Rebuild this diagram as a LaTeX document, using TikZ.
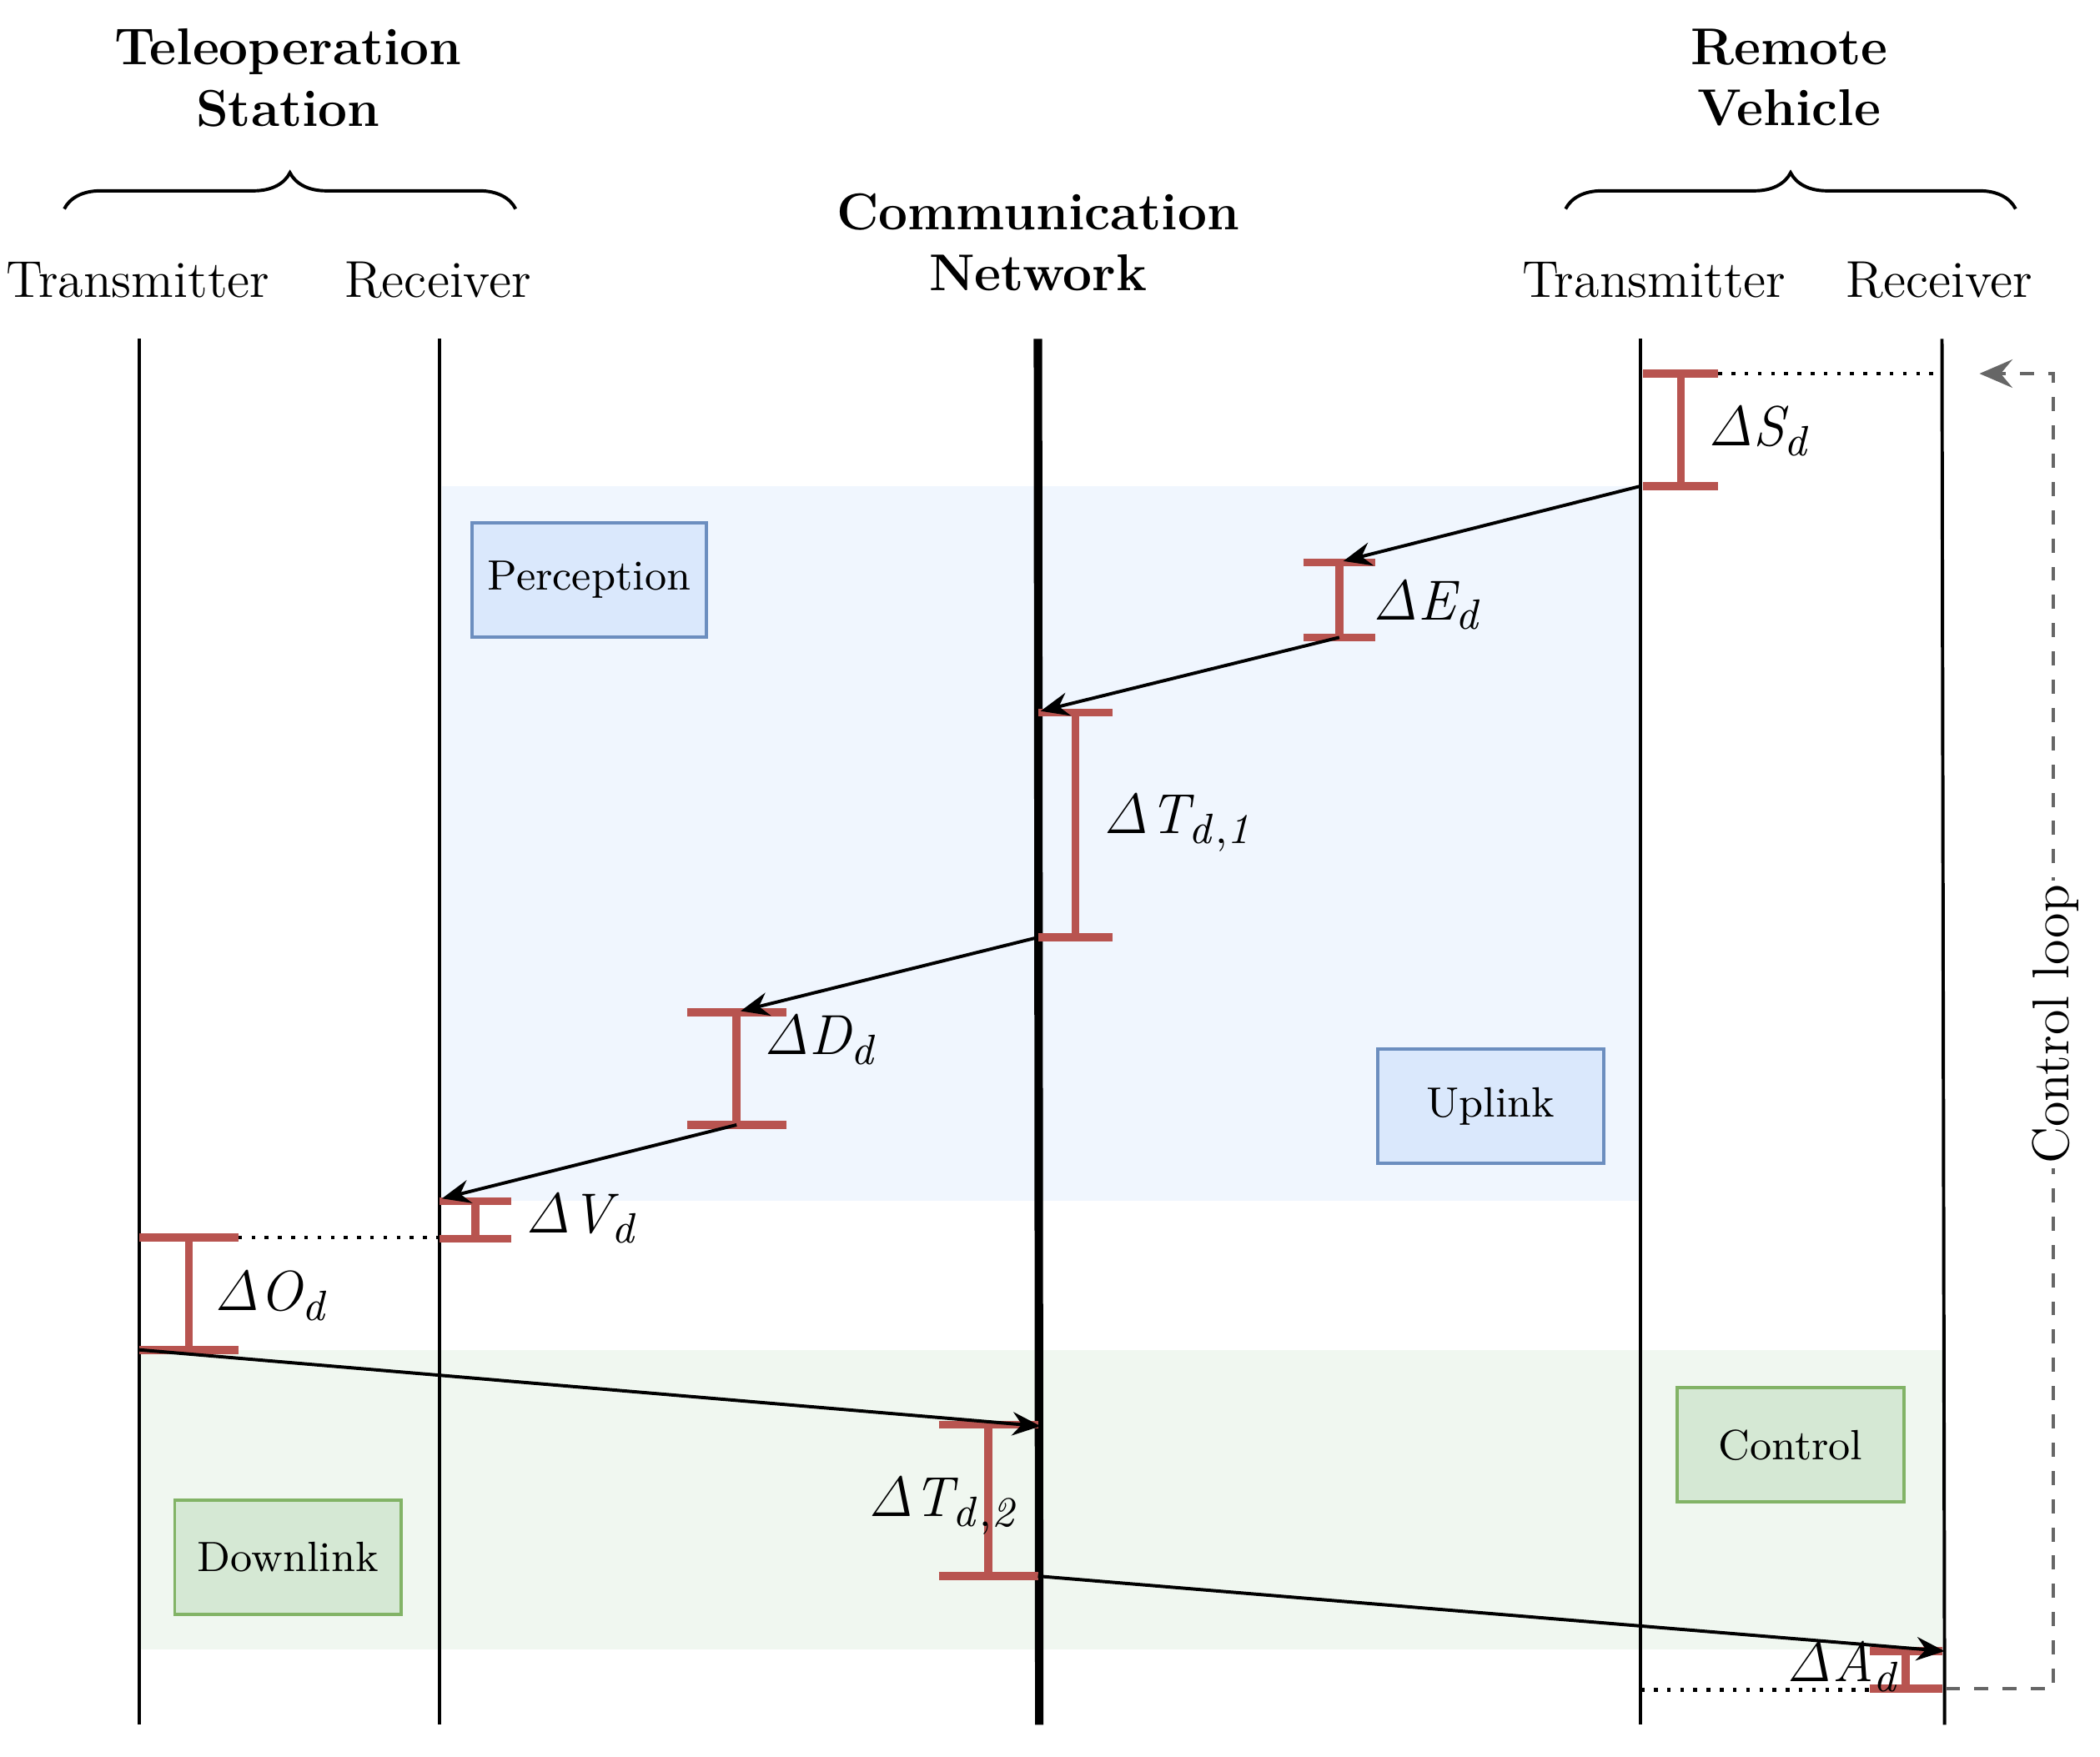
\documentclass[tikz,border=0pt]{standalone}
\usetikzlibrary{arrows.meta,decorations.pathreplacing}
\definecolor{bbg}{HTML}{F0F6FE}
\definecolor{gbg}{HTML}{F0F7F0}
\definecolor{bfill}{HTML}{DAE8FC}
\definecolor{bdraw}{HTML}{6C8EBF}
\definecolor{gfill}{HTML}{D5E8D4}
\definecolor{gdraw}{HTML}{82B366}
\definecolor{ired}{HTML}{B85450}
\begin{document}
\begin{tikzpicture}[x=0.01cm,y=-0.01cm,
  lane/.style={line width=0.7pt},
  hdr/.style={font=\fontsize{11}{13}\selectfont\bfseries,align=center},
  sub/.style={font=\fontsize{11}{13}\selectfont},
  bbox/.style={draw=bdraw,fill=bfill,line width=0.7pt,minimum width=1.69cm,minimum height=0.85cm,font=\fontsize{9}{11}\selectfont},
  gbox/.style={draw=gdraw,fill=gfill,line width=0.7pt,minimum width=1.69cm,minimum height=0.85cm,font=\fontsize{9}{11}\selectfont},
  ibar/.style={draw=ired,line width=1.7pt},
  msg/.style={line width=0.7pt,-{Stealth[length=6pt,width=5pt,inset=2pt]}},
  dl/.style={font=\fontsize{13}{15}\selectfont,anchor=west},
  dots/.style={dotted,line width=0.8pt}]
\useasboundingbox (0,0) rectangle (1568,1312);
\fill[bbg] (330,363) rectangle (1225,897);
\fill[gbg] (104,1008) rectangle (1450,1232);
% headers
\node[hdr] (ts) at (215,58) {Teleoperation\\Station};
\node[hdr] (rv) at (1336,58) {Remote\\Vehicle};
\node[hdr] (cn) at (775,181) {Communication\\Network};
\draw[decorate,decoration={brace,amplitude=0.27cm},line width=0.7pt] (48,156) -- (385,156);
\draw[decorate,decoration={brace,amplitude=0.27cm},line width=0.7pt] (1169,156) -- (1505,156);
\node[sub] (t1) at (103,209) {Transmitter};
\node[sub] (r1) at (327,209) {Receiver};
\node[sub] (t2) at (1235,209) {Transmitter};
\node[sub] (r2) at (1448,209) {Receiver};
% lanes
\draw[lane] (104,253) -- (104,1288);
\draw[lane] (328,253) -- (328,1288);
\draw[line width=1.8pt] (775,253) -- (776,1288);
\draw[lane] (1225,253) -- (1225,1288);
\draw[lane] (1450,253) -- (1452,1288);
% boxes
\node[bbox] (perc) at (440,433) {Perception};
\node[bbox] (up) at (1113,826) {Uplink};
\node[gbox] (ctl) at (1337,1079) {Control};
\node[gbox] (dn) at (215,1163) {Downlink};
% ibars
\newcommand{\ibar}[4]{\draw[ibar] (#1,#2) -- (#1,#3) (#1-#4,#2) -- (#1+#4,#2) (#1-#4,#3) -- (#1+#4,#3);}
\ibar{1255}{279}{363}{28}
\ibar{1000}{420}{476}{27}
\ibar{803}{532}{700}{28}
\ibar{550}{756}{840}{37}
\ibar{355}{897}{925}{27}
\ibar{141}{924}{1008}{37}
\ibar{738}{1064}{1177}{37}
\ibar{1423}{1233}{1261}{27}
\node[dl] (ls) at (1263,322) {$\mathit{\Delta S_d}$};
\node[dl] (le) at (1013,452) {$\mathit{\Delta E_d}$};
\node[dl] (lt1) at (812,615) {$\mathit{\Delta T_{d,1}}$};
\node[dl] (ld) at (558,777) {$\mathit{\Delta D_d}$};
\node[dl] (lv) at (380,910) {$\mathit{\Delta V_d}$};
\node[dl] (lo) at (148,968) {$\mathit{\Delta O_d}$};
\node[dl] (lt2) at (636,1125) {$\mathit{\Delta T_{d,2}}$};
\node[dl] (la) at (1322,1245) {$\mathit{\Delta A_d}$};
% messages
\coordinate (a1) at (1225,363); \coordinate (b1) at (1003,419);
\coordinate (a2) at (1000,476); \coordinate (b2) at (777,531);
\coordinate (a3) at (775,700); \coordinate (b3) at (553,755);
\coordinate (a4) at (550,840); \coordinate (b4) at (330,895);
\coordinate (a5) at (104,1008); \coordinate (b5) at (777,1065);
\coordinate (a6) at (775,1177); \coordinate (b6) at (1452,1233);
\draw[msg] (a1) -- (b1);
\draw[msg] (a2) -- (b2);
\draw[msg] (a3) -- (b3);
\draw[msg] (a4) -- (b4);
\draw[msg] (a5) -- (b5);
\draw[msg] (a6) -- (b6);
% dotted
\draw[dots] (1283,279) -- (1450,279);
\draw[dots] (178,924) -- (328,924);
\draw[dots] (1225,1262) -- (1396,1262);
% control loop
\coordinate (c0) at (1453,1261); \coordinate (c1) at (1533,1261);
\coordinate (c2) at (1533,279); \coordinate (c3) at (1478,279);
\draw[dashed,gray!80!black,line width=0.8pt,-{Stealth[length=7pt,width=6pt,inset=2.5pt]}] (c0) -- (c1) -- (c2) -- (c3);
\node[sub,rotate=90,fill=white,inner sep=1pt] (cl) at (1535,765) {Control loop};
\end{tikzpicture}
\end{document}
